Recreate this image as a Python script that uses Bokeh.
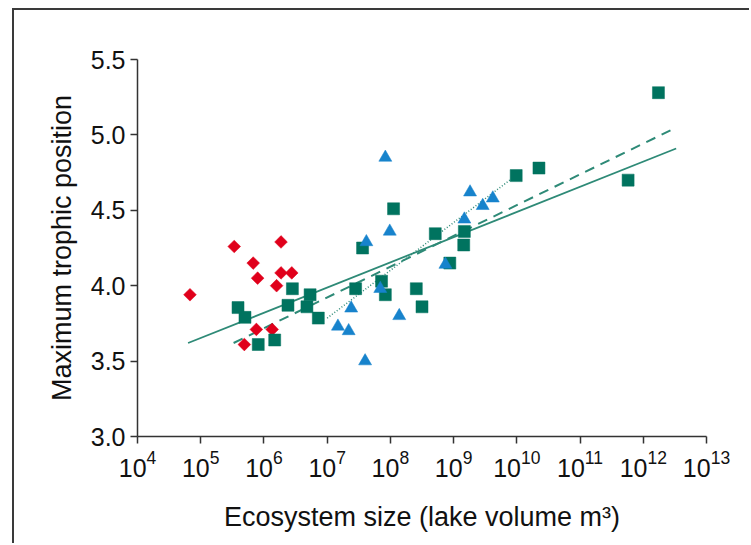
import numpy as np
from bokeh.plotting import figure
from bokeh.models import Range1d, FixedTicker, NumeralTickFormatter, LogTickFormatter
from bokeh.embed import file_html
from bokeh.resources import INLINE

# ---- data (x as log10 of lake volume in m^3) ----
lakes_small_logx = [4.83, 5.53, 6.27, 5.83, 5.90, 6.27, 6.44, 6.20, 5.88, 6.13, 5.69]
lakes_small_y = [3.94, 4.26, 4.29, 4.15, 4.05, 4.085, 4.085, 4.00, 3.71, 3.71, 3.61]

lakes_main_logx = [8.05, 7.56, 7.86, 7.92, 7.45, 8.41, 8.50, 6.45, 6.73, 6.38, 6.68, 6.86,
                   5.59, 5.70, 5.91, 6.17, 12.24, 11.76, 10.35, 9.99, 8.71, 9.17, 9.16, 8.94]
lakes_main_y = [4.51, 4.25, 4.03, 3.94, 3.98, 3.98, 3.86, 3.98, 3.94, 3.87, 3.86, 3.785,
                3.855, 3.79, 3.61, 3.64, 5.28, 4.70, 4.78, 4.73, 4.345, 4.36, 4.27, 4.15]

lakes_other_logx = [7.92, 7.99, 7.62, 7.84, 7.38, 7.17, 7.34, 8.14, 7.60, 8.87, 9.17, 9.46, 9.62, 9.26]
lakes_other_y = [4.85, 4.36, 4.29, 3.98, 3.85, 3.73, 3.70, 3.80, 3.50, 4.14, 4.44, 4.53, 4.58, 4.62]

fit_all_logx = [4.80, 12.52]
fit_all_y = [3.62, 4.91]
fit_main_logx = [5.52, 12.43]
fit_main_y = [3.62, 5.03]
fit_other_logx = [7.0, 9.92]
fit_other_y = [3.785, 4.71]

x_tick_exp = [4, 5, 6, 7, 8, 9, 10, 11, 12, 13]
y_ticks = [3.0, 3.5, 4.0, 4.5, 5.0, 5.5]

def vol(lx):
    return [10.0 ** v for v in lx]

FONT = "Liberation Sans"
RED = "#E0001B"
TEAL = "#00735F"
BLUE = "#1783CC"
LINE = "#2E8A77"

p = figure(width=737, height=535, x_axis_type="log",
           x_range=Range1d(1e4, 1e13), y_range=Range1d(3.0, 5.5),
           output_backend="svg", toolbar_location=None,
           min_border_left=123, min_border_top=49, min_border_right=45, min_border_bottom=109,
           margin=(8, 0, 0, 12),
           styles={"border-left": "2px solid #3a3a3a", "border-top": "2px solid #3a3a3a"})
p.outline_line_color = None
p.xgrid.grid_line_color = None
p.ygrid.grid_line_color = None
p.background_fill_color = "white"
p.border_fill_color = "white"

# regression lines
p.line(vol(fit_all_logx), fit_all_y, line_color=LINE, line_width=1.8)
p.line(vol(fit_main_logx), fit_main_y, line_color=LINE, line_width=2, line_dash="10 7")
p.line(vol(fit_other_logx), fit_other_y, line_color=LINE, line_width=1.5, line_dash="1 2")

# points
p.scatter(vol(lakes_small_logx), lakes_small_y, marker="square", angle=np.pi / 4,
          size=9, fill_color=RED, line_color=RED, line_width=0.5)
p.scatter(vol(lakes_main_logx), lakes_main_y, marker="square", size=12,
          fill_color=TEAL, line_color=TEAL, line_width=0.5)
p.scatter(vol(lakes_other_logx), lakes_other_y, marker="triangle", size=13,
          fill_color=BLUE, line_color=BLUE, line_width=0.5)

# axes
xa = p.xaxis[0]
xa.ticker = FixedTicker(ticks=[10.0 ** e for e in x_tick_exp])
xa.formatter = LogTickFormatter()
xa.axis_label = "Ecosystem size (lake volume m³)"
ya = p.yaxis[0]
ya.ticker = FixedTicker(ticks=y_ticks)
ya.formatter = NumeralTickFormatter(format="0.0")
ya.axis_label = "Maximum trophic position"

for ax in (xa, ya):
    ax.axis_line_color = "#333333"
    ax.axis_line_width = 1.5
    ax.major_tick_line_color = "#333333"
    ax.major_tick_line_width = 1.5
    ax.major_tick_out = 7
    ax.major_tick_in = 0
    ax.minor_tick_line_color = None
    ax.major_label_text_font = FONT
    ax.major_label_text_font_size = "25px"
    ax.major_label_text_color = "#111111"
    ax.axis_label_text_font = FONT
    ax.axis_label_text_font_size = "27px"
    ax.axis_label_text_font_style = "normal"
    ax.axis_label_text_color = "#111111"
xa.major_label_standoff = 6
xa.axis_label_standoff = 22
ya.major_label_standoff = 5
ya.axis_label_standoff = 11

open("out.html", "w").write(file_html(p, INLINE))
